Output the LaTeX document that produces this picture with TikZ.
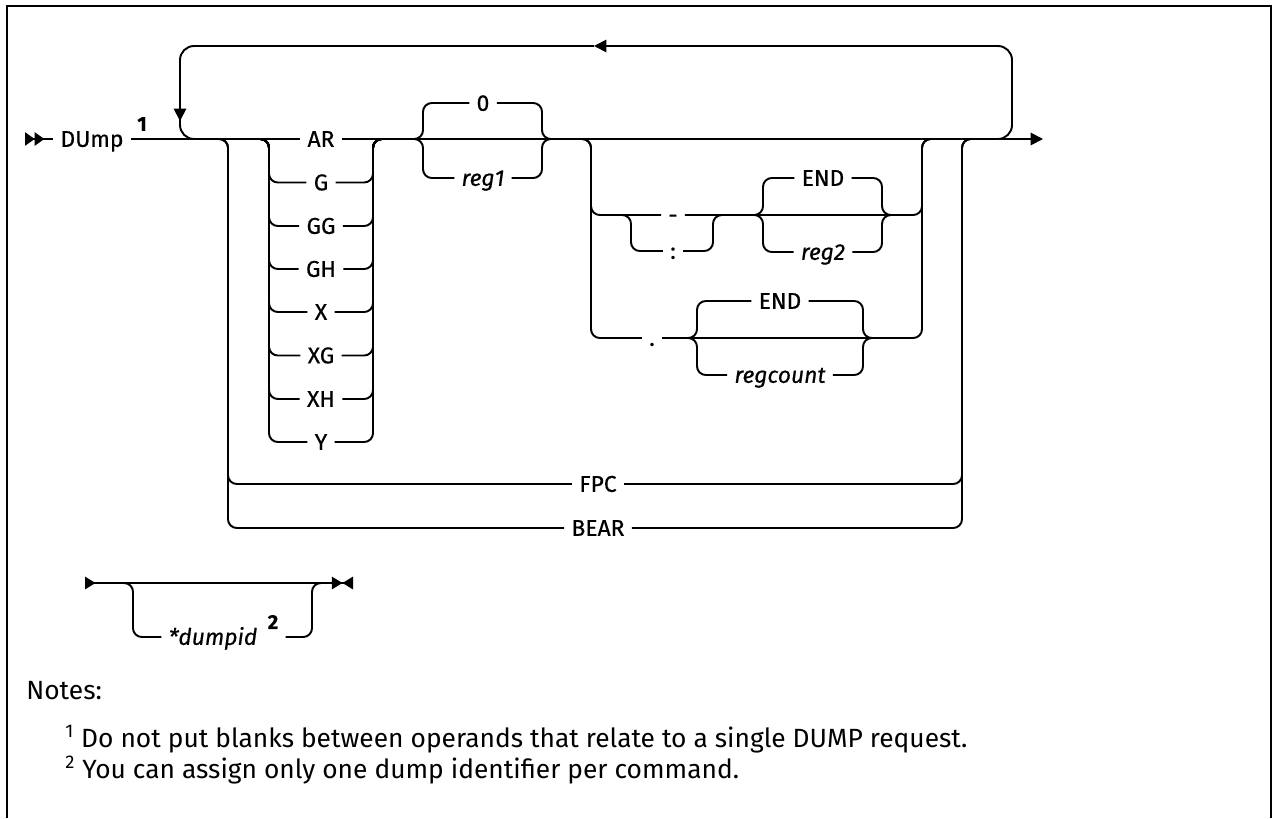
\documentclass[tikz,border=0pt]{standalone}
\usepackage{fontspec}
\setmainfont{Fira Sans}
\newfontfamily\railfont[FakeBold=0.5]{Fira Sans}
\usetikzlibrary{arrows.meta, positioning}

\tikzset{
  rail/.style={line width=1.1pt, rounded corners=5pt},
  bigrail/.style={line width=1.1pt, rounded corners=8pt},
  frame/.style={line width=1.4pt},
  kw/.style={inner xsep=4pt, inner ysep=0pt, text height=8.9pt, text depth=0pt, font=\railfont\fontsize{13}{15}\selectfont},
  var/.style={kw, font=\railfont\fontsize{13}{15}\selectfont\itshape},
  supnum/.style={inner xsep=4pt, inner ysep=0pt, font=\railfont\fontsize{11.5}{13}\selectfont\bfseries},
  note/.style={inner sep=0pt, anchor=base west, font=\fontsize{15}{18}\selectfont},
  endtip/.style={-{Triangle[length=7pt, width=7pt]}}
}

\begin{document}
\begin{tikzpicture}[x=0.02cm, y=-0.02cm]
\useasboundingbox (0,0) rectangle (1274,818);

% frame, open at the bottom
\draw[frame] (7,818) |- (1271,6) -- (1271,818);

% --- command name ---
\node[kw] (dump) at (92,139) {DUmp};
\node[supnum] (n1) at (142,124) {1};
\draw[rail, {Triangle[reversed, length=5.5pt, width=7.5pt] Triangle[reversed, length=5.5pt, width=7.5pt]}-] (25,139) -- (dump.west);

% --- register type: AR ... Y ---
\node[kw] (ar) at (321,139) {AR};
\node[kw] (g) at (321,182.5) {G};
\node[kw] (gg) at (321,226) {GG};
\node[kw] (gh) at (321,269) {GH};
\node[kw] (x) at (321,312) {X};
\node[kw] (xg) at (321,355.5) {XG};
\node[kw] (xh) at (321,399) {XH};
\node[kw] (y) at (321,442) {Y};

% main line
\draw[rail] (dump.east) -- (ar.west);
\draw[rail, endtip] (ar.east) -- (1043,139);

\draw[rail] (255,139) -- (269,139) |- (g.west);
\draw[rail] (g.east) -| (373,139) -- (387,139);
\draw[rail] (255,139) -- (269,139) |- (gg.west);
\draw[rail] (gg.east) -| (373,139) -- (387,139);
\draw[rail] (255,139) -- (269,139) |- (gh.west);
\draw[rail] (gh.east) -| (373,139) -- (387,139);
\draw[rail] (255,139) -- (269,139) |- (x.west);
\draw[rail] (x.east) -| (373,139) -- (387,139);
\draw[rail] (255,139) -- (269,139) |- (xg.west);
\draw[rail] (xg.east) -| (373,139) -- (387,139);
\draw[rail] (255,139) -- (269,139) |- (xh.west);
\draw[rail] (xh.east) -| (373,139) -- (387,139);
\draw[rail] (255,139) -- (269,139) |- (y.west);
\draw[rail] (y.east) -| (373,139) -- (387,139);

% --- FPC and BEAR ---
\node[kw] (fpc) at (598,484) {FPC};
\node[kw] (bear) at (598,528) {BEAR};
\draw[rail] (214,139) -- (228,139) |- (fpc.west);
\draw[rail] (fpc.east) -| (962,139) -- (976,139);
\draw[rail] (214,139) -- (228,139) |- (bear.west);
\draw[rail] (bear.east) -| (962,139) -- (976,139);

% --- first register ---
\node[kw] (zero) at (483,103) {0};
\node[var] (reg1) at (483,178) {reg1};
\draw[rail] (409,139) -- (423,139) |- (zero.west);
\draw[rail] (zero.east) -| (542,139) -- (556,139);
\draw[rail] (409,139) -- (423,139) |- (reg1.west);
\draw[rail] (reg1.east) -| (542,139) -- (556,139);

% --- range with - or : ---
\node[kw] (dash) at (673,215) {-};
\node[kw] (colon) at (673,251) {:};
\node[kw] (end1) at (823,178) {END};
\node[var] (reg2) at (823,252) {reg2};
\draw[rail] (577,139) -- (591,139) |- (dash.west);
\draw[rail] (dash.east) -| (922,139) -- (936,139);
\draw[rail] (617,215) -- (631,215) |- (colon.west);
\draw[rail] (colon.east) -| (713,215) -- (727,215);
\draw[rail] (749,215) -- (763,215) |- (end1.west);
\draw[rail] (end1.east) -| (882,215) -- (896,215);
\draw[rail] (749,215) -- (763,215) |- (reg2.west);
\draw[rail] (reg2.east) -| (882,215) -- (896,215);

% --- count with . ---
\node[kw] (dot) at (652,338) {.};
\node[kw] (end2) at (780,301) {END};
\node[var] (regcnt) at (780,375) {regcount};
\draw[rail] (577,139) -- (591,139) |- (dot.west);
\draw[rail] (dot.east) -| (922,139) -- (936,139);
\draw[rail] (683,338) -- (697,338) |- (end2.west);
\draw[rail] (end2.east) -| (863,338) -- (877,338);
\draw[rail] (683,338) -- (697,338) |- (regcnt.west);
\draw[rail] (regcnt.east) -| (863,338) -- (877,338);

% --- repeat loop ---
\draw[bigrail, endtip] (996,139) -| (1012,46) -- (594,46);
\draw[bigrail, endtip] (594,46) -| (180,121);
\draw[bigrail] (180,112) |- (198,139);

% --- dump identifier ---
\node[var] (dumpid) at (213,637) {*dumpid};
\node[supnum] (n2) at (273,622) {2};
\draw[rail, {Triangle[reversed, length=6pt, width=7pt]}-{Triangle[length=6pt, width=7pt] Triangle[reversed, length=6pt, width=7pt]}] (85,583) -- (353,583);
\draw[rail] (119,583) -- (133,583) |- (dumpid.west);
\draw[rail] (n2.east |- dumpid.east) -| (312,583) -- (326,583);

% --- notes ---
\node[note] (notes) at (26,699) {Notes:};
\node[note] (note1) at (65,747) {\textsuperscript{1} Do not put blanks between operands that relate to a single DUMP request.};
\node[note] (note2) at (65,778) {\textsuperscript{2} You can assign only one dump identifier per command.};

\end{tikzpicture}
\end{document}
